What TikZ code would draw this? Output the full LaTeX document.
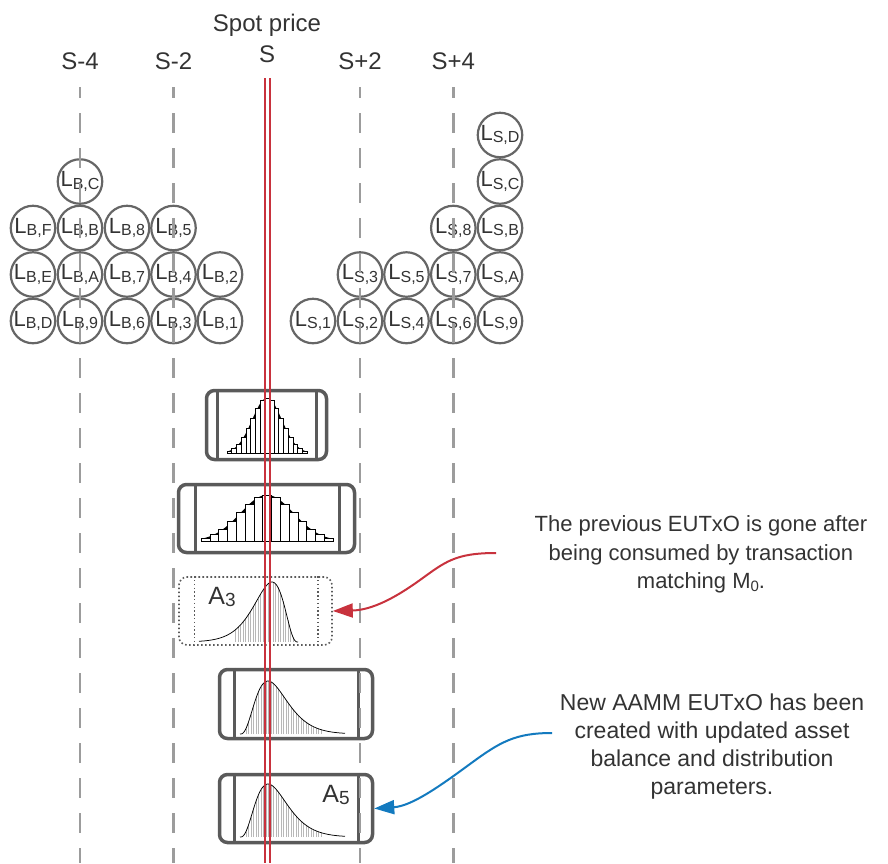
\documentclass[tikz,border=0pt]{standalone}
\usepackage{fontspec}
\setmainfont{Liberation Sans}
\usetikzlibrary{arrows.meta}

\definecolor{txt}{HTML}{333333}
\definecolor{circ}{HTML}{666666}
\definecolor{boxc}{HTML}{5A5A5A}
\definecolor{dashc}{HTML}{9C9C9C}
\definecolor{spotred}{HTML}{C8323D}
\definecolor{noteblue}{HTML}{137ABF}

% liquidity label L with a lowered subscript
\newcommand{\Lsub}[1]{{\fontsize{22}{22}\selectfont L}\raisebox{-2.5pt}{\fontsize{16}{16}\selectfont #1}}
% AMM state label A with a lowered index
\newcommand{\Asub}[1]{{\fontsize{25}{25}\selectfont A}\raisebox{-2pt}{\fontsize{19}{19}\selectfont #1}}

% symmetric histogram: centre x, baseline y, peak height, sigma, half bar count, bar width
\newcommand{\gaussbars}[6]{%
  \pgfmathsetmacro\gbHalf{(#5+0.5)*#6}
  \fill[black] ({#1-\gbHalf},#2) -- plot[domain=-\gbHalf:\gbHalf, samples=90]
     ({#1+\x},{#2-#3*exp(-\x*\x/(2*#4*#4))}) -- ({#1+\gbHalf},#2) -- cycle;
  \foreach \i in {-#5,...,#5}{
    \pgfmathsetmacro\gbH{#3*exp(-(\i*#6)*(\i*#6)/(2*#4*#4))}
    \draw[fill=white, line width=0.6pt] ({#1+(\i-0.5)*#6},#2) rectangle ({#1+(\i+0.5)*#6},{#2-\gbH});
  }
}

% skewed density: start x, direction (+1/-1), baseline y, height, peak offset, length, hatch from, hatch to
\newcommand{\skewcurve}[8]{%
  \pgfmathsetmacro\scNext{#7+2.5}
  \foreach \t in {#7,\scNext,...,#8}{
    \draw[hatch] ({#1+#2*\t},#3) -- ({#1+#2*\t},{#3-#4*(\t/#5)*(\t/#5)*(\t/#5)*exp(3*(1-\t/#5))});
  }
  \draw[line width=0.75pt] plot[domain=0:#6, samples=100]
    ({#1+#2*\x},{#3-#4*(\x/#5)*(\x/#5)*(\x/#5)*exp(3*(1-\x/#5))});
}

\begin{document}
\begin{tikzpicture}[x=1pt,y=-1pt,
  liq/.style={circle, draw=circ, line width=2.2pt, minimum size=44.5pt, inner sep=0pt, text=txt},
  utxo/.style={draw=boxc, line width=3.5pt, rounded corners=8pt, inner sep=0pt},
  gone/.style={draw=boxc, line width=1.6pt, dash pattern=on 1.6pt off 2.4pt, rounded corners=8pt, inner sep=0pt},
  wall/.style={draw=boxc, line width=3pt},
  gonewall/.style={draw=boxc, line width=1.4pt, dash pattern=on 1.4pt off 2.4pt},
  level/.style={draw=dashc, line width=2.6pt, dash pattern=on 20pt off 15pt, dash phase=9pt},
  spot/.style={draw=spotred, line width=2pt},
  hatch/.style={draw=black!28, line width=0.45pt},
  lbl/.style={text=txt, font=\fontsize{24}{24}\selectfont, anchor=base, inner sep=0pt},
  note/.style={text=txt, align=center, anchor=north, inner sep=0pt},
  callout/.style={line width=2pt, -{Triangle[length=20pt,width=14pt]}}
]
\useasboundingbox (0,0) rectangle (888,863);

% price level labels
\node[lbl] (spotlbl) at (267,31.5) {Spot price};
\node[lbl] (slbl) at (267,62.5) {S};
\node[lbl] (m4) at (80,69.5) {S-4};
\node[lbl] (m2) at (173.5,69.5) {S-2};
\node[lbl] (p2) at (360,69.5) {S+2};
\node[lbl] (p4) at (453.3,69.5) {S+4};

% buy-side liquidity
\node[liq] (bD) at (33,321) {\Lsub{B,D}};
\node[liq] (b9) at (80,321) {\Lsub{B,9}};
\node[liq] (b6) at (127,321) {\Lsub{B,6}};
\node[liq] (b3) at (173.5,321) {\Lsub{B,3}};
\node[liq] (b1) at (220,321) {\Lsub{B,1}};
\node[liq] (bE) at (33,274.5) {\Lsub{B,E}};
\node[liq] (bA) at (80,274.5) {\Lsub{B,A}};
\node[liq] (b7) at (127,274.5) {\Lsub{B,7}};
\node[liq] (b4) at (173.5,274.5) {\Lsub{B,4}};
\node[liq] (b2) at (220,274.5) {\Lsub{B,2}};
\node[liq] (bF) at (33,228) {\Lsub{B,F}};
\node[liq] (bB) at (80,228) {\Lsub{B,B}};
\node[liq] (b8) at (127,228) {\Lsub{B,8}};
\node[liq] (b5) at (173.5,228) {\Lsub{B,5}};
\node[liq] (bC) at (80,181.5) {\Lsub{B,C}};

% sell-side liquidity
\node[liq] (s1) at (313,321) {\Lsub{S,1}};
\node[liq] (s2) at (360,321) {\Lsub{S,2}};
\node[liq] (s4) at (406.5,321) {\Lsub{S,4}};
\node[liq] (s6) at (453.3,321) {\Lsub{S,6}};
\node[liq] (s9) at (500,321) {\Lsub{S,9}};
\node[liq] (s3) at (360,274.5) {\Lsub{S,3}};
\node[liq] (s5) at (406.5,274.5) {\Lsub{S,5}};
\node[liq] (s7) at (453.3,274.5) {\Lsub{S,7}};
\node[liq] (sA) at (500,274.5) {\Lsub{S,A}};
\node[liq] (s8) at (453.3,228) {\Lsub{S,8}};
\node[liq] (sB) at (500,228) {\Lsub{S,B}};
\node[liq] (sC) at (500,181.5) {\Lsub{S,C}};
\node[liq] (sD) at (500,135) {\Lsub{S,D}};

% AMM UTxO states
\node[utxo, minimum width=120pt, minimum height=69pt] (box1) at (266.5,425) {};
\draw[wall] ([xshift=13pt]box1.north west) -- ([xshift=13pt]box1.south west);
\draw[wall] ([xshift=-12pt]box1.north east) -- ([xshift=-12pt]box1.south east);
\gaussbars{267}{453}{55}{14.8}{8}{4.7}

\node[utxo, minimum width=176pt, minimum height=68pt] (box2) at (266.5,518.5) {};
\draw[wall] ([xshift=19pt]box2.north west) -- ([xshift=19pt]box2.south west);
\draw[wall] ([xshift=-17pt]box2.north east) -- ([xshift=-17pt]box2.south east);
\gaussbars{267}{541}{46}{26.7}{7}{8.8}

\node[gone, minimum width=153pt, minimum height=68pt] (box3) at (255.5,611) {};
\draw[gonewall] ([xshift=16pt]box3.north west) -- ([xshift=16pt]box3.south west);
\draw[gonewall] ([xshift=-15pt]box3.north east) -- ([xshift=-15pt]box3.south east);
\skewcurve{298}{-1}{642}{60}{26}{99}{5}{63}
\node[text=txt, inner sep=0pt] (a3) at (222,597) {\Asub{3}};

\node[utxo, minimum width=153pt, minimum height=69pt] (box4) at (296,704) {};
\draw[wall] ([xshift=17pt]box4.north west) -- ([xshift=17pt]box4.south west);
\draw[wall] ([xshift=-16pt]box4.north east) -- ([xshift=-16pt]box4.south east);
\skewcurve{240}{1}{734}{53}{28}{105}{6}{82}

\node[utxo, minimum width=153pt, minimum height=68pt] (box5) at (296,808.5) {};
\draw[wall] ([xshift=17pt]box5.north west) -- ([xshift=17pt]box5.south west);
\draw[wall] ([xshift=-16pt]box5.north east) -- ([xshift=-16pt]box5.south east);
\skewcurve{240}{1}{837}{53}{28}{105}{6}{82}
\node[text=txt, inner sep=0pt] (a5) at (336,795) {\Asub{5}};

% price levels
\foreach \lx in {80,173.5,360,453.3}{
  \draw[level] (\lx,87) -- (\lx,863);
}
% spot price
\draw[spot] (264.7,78) -- (264.7,863);
\draw[spot] (269.5,78) -- (269.5,863);

% annotations
\node[note, font=\fontsize{22}{28.5}\selectfont] (note1) at (701,515.5) {The previous EUTxO is gone after\\being consumed by transaction\\matching M\raisebox{-3pt}{\fontsize{15}{15}\selectfont 0}.};
\node[note, font=\fontsize{23}{28}\selectfont] (note2) at (712,693.5) {New AAMM EUTxO has been\\created with updated asset\\balance and distribution\\parameters.};

\coordinate (redstart) at (496,553);
\coordinate (bluestart) at (552,733);
\draw[callout, spotred] (redstart) .. controls (455,553) and (445,562) .. (420,580)
   .. controls (395,598) and (372,610) .. (box3.east);
\draw[callout, noteblue] (bluestart) .. controls (515,733) and (500,742) .. (470,764)
   .. controls (440,786) and (412,806) .. (box5.east);
\end{tikzpicture}
\end{document}
